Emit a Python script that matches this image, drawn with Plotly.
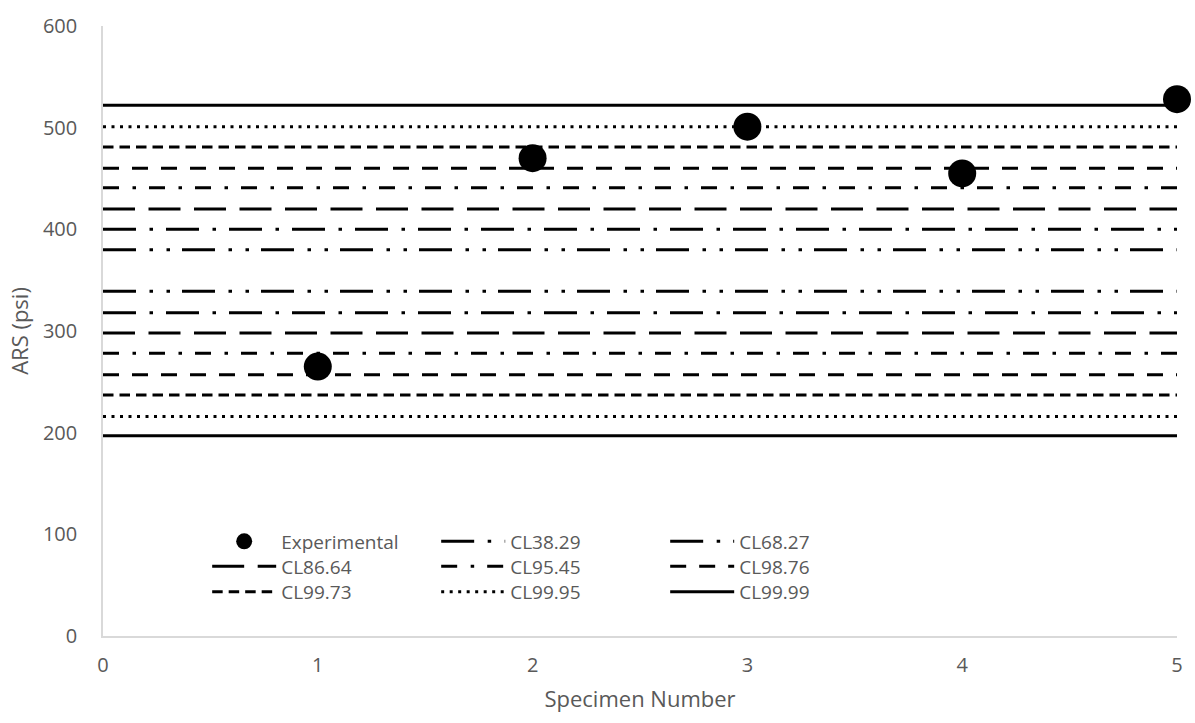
import plotly.graph_objects as go

# Experimental results per specimen
specimen = [1, 2, 3, 4, 5]
ars = [265, 470, 501, 455, 528]

# Confidence-level bands (upper / lower limits, psi)
cl_names = ["CL38.29", "CL68.27", "CL86.64", "CL95.45", "CL98.76", "CL99.73", "CL99.95", "CL99.99"]
cl_upper = [380, 400, 420, 441, 460, 481, 501, 522]
cl_lower = [339, 318, 298, 278, 257, 237, 216, 197]
x_span = [0, 5]

x_ticks = [0, 1, 2, 3, 4, 5]
y_ticks = [0, 100, 200, 300, 400, 500, 600]

dash_styles = {
    "CL38.29": "33px,13.5px,3.5px,13.5px,3.5px,12px",
    "CL68.27": "33px,13.5px,3.5px,13px",
    "CL86.64": "32px,13.5px",
    "CL95.45": "16px,13.5px,3.5px,13px",
    "CL98.76": "16px,13px",
    "CL99.73": "10.5px,6px",
    "CL99.95": "3px,5.5px",
    "CL99.99": "solid",
}
# legend row (one horizontal legend per row) and column rank
legend_slot = {
    "CL38.29": ("legend", 2), "CL68.27": ("legend", 3),
    "CL86.64": ("legend2", 1), "CL95.45": ("legend2", 2), "CL98.76": ("legend2", 3),
    "CL99.73": ("legend3", 1), "CL99.95": ("legend3", 2), "CL99.99": ("legend3", 3),
}

FONT = "Open Sans"
GREY = "#595959"

fig = go.Figure()

for name, hi, lo in zip(cl_names, cl_upper, cl_lower):
    leg, rank = legend_slot[name]
    fig.add_trace(go.Scatter(
        x=[x_span[0], x_span[1], None, x_span[0], x_span[1]],
        y=[hi, hi, None, lo, lo],
        mode="lines",
        name=name,
        line=dict(color="black", width=3, dash=dash_styles[name]),
        legend=leg,
        legendrank=rank,
        hoverinfo="skip",
    ))

fig.add_trace(go.Scatter(
    x=specimen, y=ars,
    mode="markers",
    name="Experimental",
    marker=dict(color="black", size=28),
    cliponaxis=False,
    legend="legend",
    legendrank=1,
))

leg_common = dict(
    font=dict(family=FONT, size=19, color=GREY),
    bgcolor="rgba(0,0,0,0)",
    orientation="h",
    itemwidth=64,
    entrywidth=150,
    entrywidthmode="pixels",
    yanchor="middle",
    xanchor="left",
    x=0.097,
)

fig.update_layout(
    width=1195, height=723,
    margin=dict(l=103, r=12, t=16, b=87),
    paper_bgcolor="white",
    plot_bgcolor="white",
    font=dict(family=FONT, size=20, color=GREY),
    legend=dict(y=0.155, **leg_common),
    legend2=dict(y=0.114, **leg_common),
    legend3=dict(y=0.0725, **leg_common),
    xaxis=dict(
        range=[0, 5], tickvals=x_ticks, showgrid=False, zeroline=False,
        showline=True, linecolor="#d9d9d9", linewidth=1.5,
        ticks="", ticklabelstandoff=10,
        tickfont=dict(family=FONT, size=20, color=GREY),
        title=dict(text="Specimen Number", font=dict(family=FONT, size=22, color=GREY), standoff=15),
    ),
    yaxis=dict(
        range=[0, 600], tickvals=y_ticks, showgrid=False, zeroline=False,
        showline=True, linecolor="#d9d9d9", linewidth=1.5,
        ticks="", ticklabelstandoff=20,
        tickfont=dict(family=FONT, size=20, color=GREY),
        title=dict(text="ARS (psi)", font=dict(family=FONT, size=22, color=GREY), standoff=8),
    ),
)

fig.write_html("out.html")
